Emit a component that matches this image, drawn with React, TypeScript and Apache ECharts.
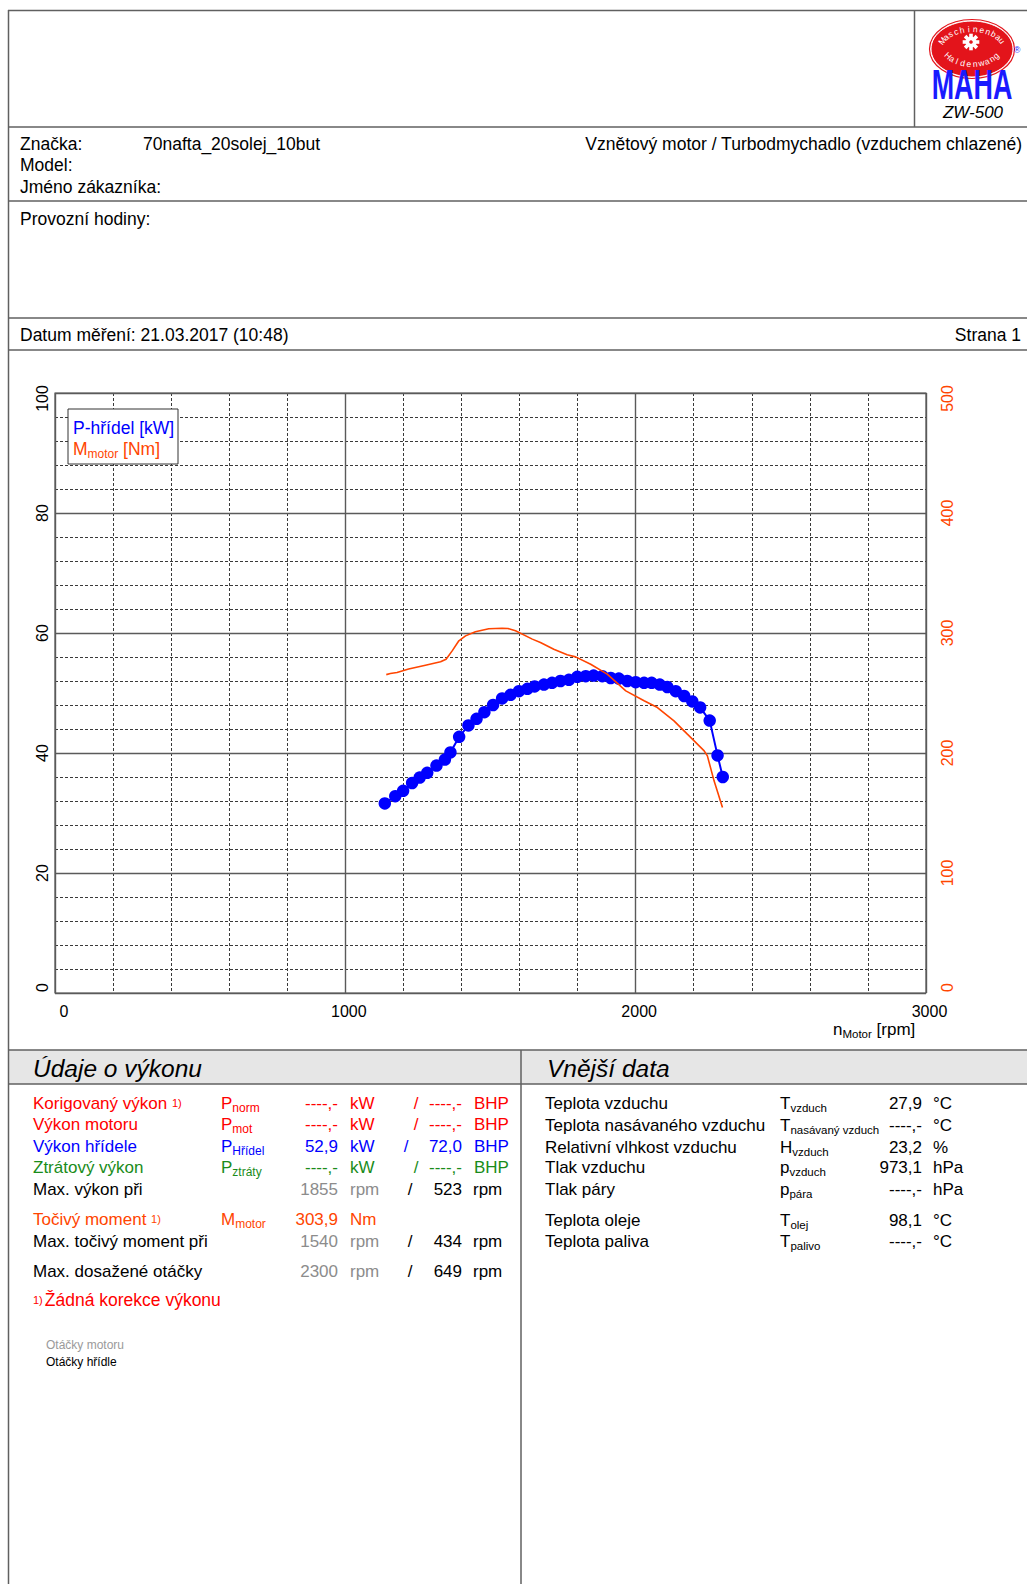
import React, { useEffect, useRef } from 'react';
import * as echarts from 'echarts';

const FONT = '"Liberation Sans", Arial, Helvetica, sans-serif';

// ---------- chart data ----------
const xTickValues = [0, 1000, 2000, 3000];
const powerRpm = [1136, 1172, 1199, 1230, 1256, 1282, 1314, 1343, 1362, 1392, 1424, 1452, 1479, 1509, 1540, 1569, 1598, 1627, 1652, 1684, 1712, 1741, 1770, 1799, 1828, 1855, 1885, 1914, 1942, 1971, 2000, 2029, 2055, 2083, 2109, 2138, 2167, 2195, 2222, 2255, 2282, 2300];
const powerKw = [31.6, 32.8, 33.7, 35.0, 35.9, 36.7, 37.9, 38.9, 40.1, 42.7, 44.6, 45.7, 46.8, 48.0, 49.1, 49.7, 50.3, 50.7, 51.1, 51.4, 51.7, 52.0, 52.2, 52.7, 52.8, 52.9, 52.8, 52.5, 52.4, 52.0, 51.8, 51.7, 51.7, 51.4, 51.0, 50.3, 49.5, 48.6, 47.6, 45.4, 39.6, 36.0];
const torqueRpm = [1141, 1155, 1178, 1218, 1276, 1328, 1347, 1368, 1391, 1414, 1448, 1494, 1540, 1560, 1586, 1644, 1672, 1718, 1764, 1793, 1845, 1902, 1966, 2029, 2075, 2132, 2178, 2236, 2247, 2270, 2299];
const torqueNm = [265.3, 266.3, 267.1, 270.0, 273.2, 276.0, 278.2, 285.1, 293.5, 297.6, 301.0, 303.6, 303.9, 303.8, 301.8, 294.9, 292.1, 286.5, 281.8, 280.1, 274.0, 265.7, 251.8, 243.5, 237.9, 226.8, 215.7, 201.8, 197.6, 176.8, 154.6];

// ---------- header texts ----------
const brandLabel = 'Značka:';
const brandValue = '70nafta_20solej_10but';
const engineType = 'Vznětový motor / Turbodmychadlo (vzduchem chlazené)';
const modelLabel = 'Model:';
const customerLabel = 'Jméno zákazníka:';
const hoursLabel = 'Provozní hodiny:';
const dateLabel = 'Datum měření: 21.03.2017 (10:48)';
const pageLabel = 'Strana 1';
const deviceName = 'ZW-500';

// ---------- performance table ----------
const perfLabels = ['Korigovaný výkon', 'Výkon motoru', 'Výkon hřídele', 'Ztrátový výkon'];
const perfSymbolSubs = ['norm', 'mot', 'Hřídel', 'ztráty'];
const perfKw = ['----,-', '----,-', '52,9', '----,-'];
const perfBhp = ['----,-', '----,-', '72,0', '----,-'];
const rpmLabels = ['Max. výkon při', 'Max. točivý moment při', 'Max. dosažené otáčky'];
const rpmMotor = ['1855', '1540', '2300'];
const rpmShaft = ['523', '434', '649'];
const torqueLabel = 'Točivý moment';
const torqueValue = '303,9';
const footnote = 'Žádná korekce výkonu';

// ---------- external data table ----------
const envLabels = ['Teplota vzduchu', 'Teplota nasávaného vzduchu', 'Relativní vlhkost vzduchu', 'Tlak vzduchu', 'Tlak páry', 'Teplota oleje', 'Teplota paliva'];
const envSymMain = ['T', 'T', 'H', 'p', 'p', 'T', 'T'];
const envSymSub = ['vzduch', 'nasávaný vzduch', 'vzduch', 'vzduch', 'pára', 'olej', 'palivo'];
const envValues = ['27,9', '----,-', '23,2', '973,1', '----,-', '98,1', '----,-'];
const envUnits = ['°C', '°C', '%', 'hPa', 'hPa', '°C', '°C'];

const RED = '#ff0000';
const ORANGE = '#ff4500';
const BLUE = '#0000ff';
const GREEN = '#1a8c1a';
const GRAY = '#8c8c8c';
const FRAME = '#606060';

function txt(text: string, x: number, y: number, o: any = {}) {
  const align = o.align || 'left';
  return {
    type: 'text', x, y, z: 20, silent: true,
    scaleX: o.scaleX || 1,
    rotation: o.rotation || 0,
    style: {
      text,
      fill: o.color || '#000',
      fontSize: o.size || 17,
      fontFamily: o.family || FONT,
      fontStyle: o.italic ? 'italic' : 'normal',
      fontWeight: o.bold ? 'bold' : 'normal',
      align, textAlign: align,
      verticalAlign: 'middle', textVerticalAlign: 'middle',
    },
  };
}

function subTxt(main: string, sub: string, x: number, y: number, color: string, o: any = {}) {
  const size = o.size || 17;
  const subSize = o.subSize || 12;
  const after = o.after || '';
  return {
    type: 'text', x, y, z: 20, silent: true,
    style: {
      text: `{m|${main}}{s|${sub}}` + (after ? `{m|${after}}` : ''),
      fill: color,
      fontSize: size,
      fontFamily: FONT,
      align: 'left', textAlign: 'left',
      verticalAlign: 'middle', textVerticalAlign: 'middle',
      rich: {
        m: { fontSize: size, fontFamily: FONT, fill: color, lineHeight: 22, verticalAlign: 'middle' },
        s: { fontSize: subSize, fontFamily: FONT, fill: color, lineHeight: 12, verticalAlign: 'top', padding: [o.subPad ?? 10, 0, 0, 0] },
      },
    },
  };
}

function hline(x1: number, x2: number, y: number, w = 1.5, c = FRAME) {
  return { type: 'line', z: 15, silent: true, shape: { x1, y1: y, x2, y2: y }, style: { stroke: c, lineWidth: w } };
}
function vline(x: number, y1: number, y2: number, w = 1.5, c = FRAME) {
  return { type: 'line', z: 15, silent: true, shape: { x1: x, y1, x2: x, y2 }, style: { stroke: c, lineWidth: w } };
}

function arcText(str: string, cx: number, cy: number, rx: number, ry: number, a0: number, a1: number, bottom: boolean, size: number) {
  const n = str.length;
  const out: any[] = [];
  for (let i = 0; i < n; i++) {
    const t = ((a0 + (a1 - a0) * (i + 0.5) / n) * Math.PI) / 180;
    const px = cx + rx * Math.cos(t);
    const py = cy + ry * Math.sin(t);
    let dx: number, dy: number;
    if (bottom) { dx = rx * Math.sin(t); dy = -ry * Math.cos(t); }
    else { dx = -rx * Math.sin(t); dy = ry * Math.cos(t); }
    const ang = Math.atan2(dy, dx);
    out.push(txt(str[i], px, py, { size, color: '#fff', align: 'center', rotation: -ang }));
  }
  return out;
}

function buildGraphic() {
  const g: any[] = [];
  // frame
  g.push(hline(8, 1027, 10.5));
  g.push(vline(8.5, 10, 1584));
  g.push(vline(914.5, 10, 127));
  g.push(hline(8, 1027, 127));
  g.push(hline(8, 1027, 201));
  g.push(hline(8, 1027, 318));
  g.push(hline(8, 1027, 350));

  // logo
  g.push({ type: 'ellipse', z: 16, silent: true, shape: { cx: 972, cy: 49, rx: 41, ry: 28 }, style: { fill: '#e3141b', stroke: '#ffffff', lineWidth: 1 } });
  g.push({ type: 'ellipse', z: 16, silent: true, shape: { cx: 972, cy: 49, rx: 42.5, ry: 29.5 }, style: { fill: 'none', stroke: '#e3141b', lineWidth: 1.2 } });
  g.push(...arcText('Maschinenbau', 972, 50, 33, 21, 200, 340, false, 8.5));
  g.push(...arcText('Haldenwang', 972, 45, 29, 19, 152, 28, true, 8.5));
  for (let k = 0; k < 8; k++) {
    const a = (k * Math.PI) / 4;
    g.push({ type: 'rect', z: 17, silent: true, x: 971 + 6.5 * Math.cos(a), y: 42 + 6.5 * Math.sin(a), rotation: -a, shape: { x: -1.8, y: -1.8, width: 3.6, height: 3.6 }, style: { fill: '#fff' } });
  }
  g.push({ type: 'circle', z: 17, silent: true, shape: { cx: 971, cy: 42, r: 5.5 }, style: { fill: '#fff' } });
  g.push({ type: 'circle', z: 18, silent: true, shape: { cx: 971, cy: 42, r: 1.8 }, style: { fill: '#e3141b' } });
  g.push(txt('MAHA', 972, 84, { size: 42, bold: true, color: '#1a1aff', align: 'center', scaleX: 0.64 }));
  g.push(txt('®', 1017, 50, { size: 9, color: '#1a1aff', align: 'center' }));
  g.push(txt(deviceName, 973, 112, { size: 17, italic: true, align: 'center' }));

  // header texts
  g.push(txt(brandLabel, 20, 144, { size: 17.5 }));
  g.push(txt(brandValue, 143, 144, { size: 17.5 }));
  g.push(txt(engineType, 1022, 144, { size: 17.5, align: 'right' }));
  g.push(txt(modelLabel, 20, 165, { size: 17.5 }));
  g.push(txt(customerLabel, 20, 187, { size: 17.5 }));
  g.push(txt(hoursLabel, 20, 219, { size: 17.5 }));
  g.push(txt(dateLabel, 20, 335, { size: 17.5 }));
  g.push(txt(pageLabel, 1021, 335, { size: 17.5, align: 'right' }));

  // chart legend box
  g.push({ type: 'rect', z: 18, silent: true, shape: { x: 68, y: 409, width: 110, height: 55 }, style: { fill: '#fff', stroke: '#333', lineWidth: 1 } });
  g.push(txt('P-hřídel [kW]', 73, 428, { size: 17.5, color: BLUE }));
  g.push(subTxt('M', 'motor', 73, 449, ORANGE, { after: ' [Nm]', size: 17.5, subSize: 12 }));
  // x axis name
  g.push(subTxt('n', 'Motor', 833, 1029, '#000', { after: ' [rpm]', size: 17, subSize: 11.5 }));

  // bottom section header
  g.push({ type: 'rect', z: 14, silent: true, shape: { x: 8, y: 1050, width: 1019, height: 34 }, style: { fill: '#e6e6e6' } });
  g.push(hline(8, 1027, 1050));
  g.push(hline(8, 1027, 1084));
  g.push(vline(521, 1050, 1584));
  g.push(txt('Údaje o výkonu', 33, 1068, { size: 24.5, italic: true }));
  g.push(txt('Vnější data', 547, 1068, { size: 24.5, italic: true }));

  // performance rows
  const perfY = [1103, 1124, 1146, 1167];
  const perfCol = [RED, RED, BLUE, GREEN];
  const slashX = [416, 416, 406, 416];
  for (let i = 0; i < 4; i++) {
    const c = perfCol[i];
    const y = perfY[i];
    if (i === 0) {
      g.push({
        type: 'text', x: 33, y, z: 20, silent: true,
        style: {
          text: `{a|${perfLabels[i]} }{b|1)}`, fill: c, align: 'left', textAlign: 'left', verticalAlign: 'middle', textVerticalAlign: 'middle',
          rich: { a: { fontSize: 17, fontFamily: FONT, fill: c }, b: { fontSize: 11, fontFamily: FONT, fill: c } },
        },
      });
    } else {
      g.push(txt(perfLabels[i], 33, y, { color: c }));
    }
    g.push(subTxt('P', perfSymbolSubs[i], 221, y, c));
    g.push(txt(perfKw[i], 338, y, { color: c, align: 'right' }));
    g.push(txt('kW', 350, y, { color: c }));
    g.push(txt('/', slashX[i], y, { color: c, align: 'center' }));
    g.push(txt(perfBhp[i], 462, y, { color: c, align: 'right' }));
    g.push(txt('BHP', 474, y, { color: c }));
  }
  const rpmY = [1189, 1241, 1271];
  for (let i = 0; i < 3; i++) {
    const y = rpmY[i];
    g.push(txt(rpmLabels[i], 33, y));
    g.push(txt(rpmMotor[i], 338, y, { color: GRAY, align: 'right' }));
    g.push(txt('rpm', 350, y, { color: GRAY }));
    g.push(txt('/', 410, y, { align: 'center' }));
    g.push(txt(rpmShaft[i], 462, y, { align: 'right' }));
    g.push(txt('rpm', 473, y));
  }
  g.push({
    type: 'text', x: 33, y: 1219, z: 20, silent: true,
    style: {
      text: `{a|${torqueLabel} }{b|1)}`, fill: ORANGE, align: 'left', textAlign: 'left', verticalAlign: 'middle', textVerticalAlign: 'middle',
      rich: { a: { fontSize: 17, fontFamily: FONT, fill: ORANGE }, b: { fontSize: 11, fontFamily: FONT, fill: ORANGE } },
    },
  });
  g.push(subTxt('M', 'motor', 221, 1219, ORANGE));
  g.push(txt(torqueValue, 338, 1219, { color: ORANGE, align: 'right' }));
  g.push(txt('Nm', 350, 1219, { color: ORANGE }));
  g.push({
    type: 'text', x: 33, y: 1300, z: 20, silent: true,
    style: {
      text: `{b|1)}{a|${footnote}}`, fill: RED, align: 'left', textAlign: 'left', verticalAlign: 'middle', textVerticalAlign: 'middle',
      rich: { a: { fontSize: 17.5, fontFamily: FONT, fill: RED }, b: { fontSize: 11, fontFamily: FONT, fill: RED, padding: [0, 2, 0, 0] } },
    },
  });
  g.push(txt('Otáčky motoru', 46, 1345, { size: 12, color: '#9a9a9a' }));
  g.push(txt('Otáčky hřídle', 46, 1362, { size: 12 }));

  // external data
  const envY = [1103, 1125, 1147, 1167, 1189, 1220, 1241];
  for (let i = 0; i < envLabels.length; i++) {
    const y = envY[i];
    g.push(txt(envLabels[i], 545, y));
    g.push(subTxt(envSymMain[i], envSymSub[i], 780, y, '#000', { subSize: 11.5 }));
    g.push(txt(envValues[i], 922, y, { align: 'right' }));
    g.push(txt(envUnits[i], 933, y));
  }
  return g;
}

export default function App() {
  const ref = useRef<HTMLDivElement>(null);
  useEffect(() => {
    if (!ref.current) return;
    const chart = echarts.init(ref.current, null, { renderer: 'svg' });
    const minorLine = { show: true, lineStyle: { color: '#3a3a3a', width: 1, type: [3, 2] } };
    const majorLine = { show: true, lineStyle: { color: '#5a5a5a', width: 1.4, type: 'solid' } };
    const yEdgeRich = {
      lo: { fontSize: 16, fontFamily: FONT, padding: [0, 0, 0, 11] },
      hi: { fontSize: 16, fontFamily: FONT, padding: [0, 11, 0, 0] },
    };
    const option: any = {
      animation: false,
      backgroundColor: '#fff',
      textStyle: { fontFamily: FONT },
      grid: { left: 55, top: 393, width: 871, height: 600, show: true, borderColor: '#555', borderWidth: 1.2, backgroundColor: 'transparent' },
      xAxis: [
        { type: 'value', min: 0, max: 3000, interval: 200, axisLabel: { show: false }, axisTick: { show: false }, axisLine: { show: false }, splitLine: minorLine, z: 0 },
        {
          type: 'value', min: 0, max: 3000, interval: 1000, position: 'bottom', z: 1,
          axisTick: { show: false }, axisLine: { show: false }, splitLine: majorLine,
          axisLabel: {
            show: true, fontSize: 16, color: '#000', fontFamily: FONT, margin: 10,
            formatter: (v: number) => (xTickValues.includes(v) ? (v === 0 ? `{z|${v}}` : `{n|${v}}`) : ''),
            rich: {
              z: { fontSize: 16, fontFamily: FONT, color: '#000', padding: [0, 0, 0, 18] },
              n: { fontSize: 16, fontFamily: FONT, color: '#000', padding: [0, 0, 0, 7] },
            },
          },
        },
      ],
      yAxis: [
        { type: 'value', min: 0, max: 100, interval: 4, position: 'left', axisLabel: { show: false }, axisTick: { show: false }, axisLine: { show: false }, splitLine: minorLine, z: 0 },
        {
          type: 'value', min: 0, max: 100, interval: 20, position: 'left', z: 1,
          axisTick: { show: false }, axisLine: { show: false }, splitLine: majorLine,
          axisLabel: {
            show: true, rotate: 90, fontSize: 16, color: '#000', fontFamily: FONT, margin: 5,
            formatter: (v: number) => (v === 0 ? `{lo|${v}}` : v === 100 ? `{hi|${v}}` : String(v)),
            rich: { lo: { ...yEdgeRich.lo, color: '#000' }, hi: { ...yEdgeRich.hi, color: '#000' } },
          },
        },
        {
          type: 'value', min: 0, max: 500, interval: 100, position: 'right',
          axisTick: { show: false }, axisLine: { show: false }, splitLine: { show: false },
          axisLabel: {
            show: true, rotate: 90, fontSize: 16, color: ORANGE, fontFamily: FONT, margin: 13,
            formatter: (v: number) => (v === 0 ? `{lo|${v}}` : v === 500 ? `{hi|${v}}` : String(v)),
            rich: { lo: { ...yEdgeRich.lo, color: ORANGE }, hi: { ...yEdgeRich.hi, color: ORANGE } },
          },
        },
      ],
      series: [
        {
          type: 'line', name: 'P-hřídel [kW]', xAxisIndex: 0, yAxisIndex: 0, z: 5,
          data: powerRpm.map((r, i) => [r, powerKw[i]]),
          symbol: 'circle', symbolSize: 12.5, showSymbol: true,
          lineStyle: { color: BLUE, width: 2 }, itemStyle: { color: BLUE },
        },
        {
          type: 'line', name: 'M motor [Nm]', xAxisIndex: 0, yAxisIndex: 2, z: 6,
          data: torqueRpm.map((r, i) => [r, torqueNm[i]]),
          symbol: 'none', showSymbol: false,
          lineStyle: { color: ORANGE, width: 1.6 },
        },
      ],
      graphic: buildGraphic(),
    };
    chart.setOption(option);
    return () => chart.dispose();
  }, []);
  return <div ref={ref} style={{ position: 'absolute', left: 0, top: 0, width: 1027, height: 1584, background: '#fff' }} />;
}
